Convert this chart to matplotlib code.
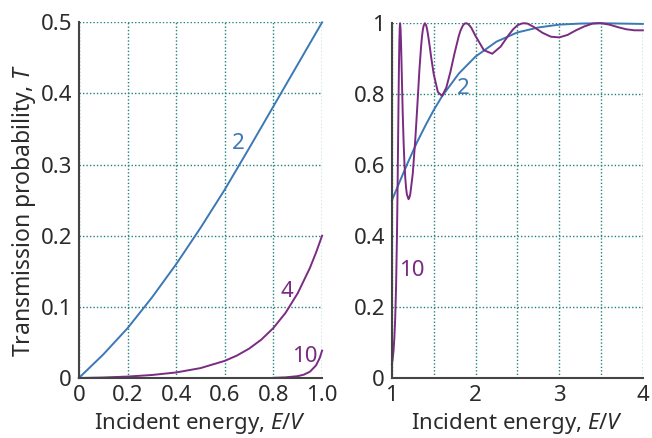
"""
Transmission probability through a rectangular barrier (E < V and E > V).
"""

from matplotlib import pyplot

# Left panel: E/V below 1
e_lo = [0.0, 0.1, 0.2, 0.3, 0.4, 0.5, 0.6, 0.7, 0.8, 0.9, 1.0]
t2_lo = [0.0, 0.033, 0.070, 0.113, 0.160, 0.211, 0.265, 0.323, 0.382, 0.441, 0.5]
e4_lo = [0.0, 0.1, 0.2, 0.3, 0.4, 0.5, 0.6, 0.65, 0.7, 0.75, 0.8, 0.85,
         0.9, 0.95, 0.975, 1.0]
t4_lo = [0.0, 0.0007, 0.002, 0.0042, 0.0078, 0.0139, 0.0241, 0.0316, 0.0413,
         0.0539, 0.0704, 0.0917, 0.1193, 0.1548, 0.1762, 0.2]
e10_lo = [0.8, 0.85, 0.9, 0.925, 0.95, 0.975, 0.99, 1.0]
t10_lo = [0.0003, 0.0009, 0.0026, 0.0047, 0.0088, 0.0177, 0.0279, 0.0385]

# Right panel: E/V above 1
e2_hi = [1.0, 1.1, 1.2, 1.3, 1.4, 1.5, 1.6, 1.8, 2.0, 2.25, 2.5, 2.75, 3.0,
         3.25, 3.5, 3.75, 4.0]
t2_hi = [0.5, 0.557, 0.612, 0.664, 0.711, 0.755, 0.794, 0.858, 0.906, 0.948,
         0.974, 0.988, 0.996, 0.999, 1.0, 0.999, 0.998]
e10_hi = [1.0, 1.005, 1.01, 1.02, 1.03, 1.04, 1.05, 1.06, 1.065, 1.07, 1.075,
          1.08, 1.085, 1.09, 1.095, 1.0987, 1.105, 1.11, 1.115, 1.12, 1.13,
          1.14, 1.15, 1.16, 1.17, 1.18, 1.2, 1.21, 1.22, 1.25, 1.28, 1.3,
          1.33, 1.35, 1.36, 1.37, 1.38, 1.395, 1.41, 1.42, 1.43, 1.45, 1.47,
          1.5, 1.55, 1.6, 1.65, 1.7, 1.75, 1.8, 1.82, 1.85, 1.87, 1.888, 1.91,
          1.93, 1.95, 2.0, 2.1, 2.2, 2.3, 2.4, 2.45, 2.5, 2.55, 2.579, 2.62,
          2.7, 2.8, 2.9, 3.0, 3.1, 3.2, 3.3, 3.4, 3.467, 3.5, 3.6, 3.7, 3.8,
          3.9, 4.0]
t10_hi = [0.0385, 0.0455, 0.054, 0.077, 0.113, 0.168, 0.253, 0.385, 0.471,
          0.569, 0.678, 0.785, 0.880, 0.952, 0.992, 1.0, 0.980, 0.941, 0.894,
          0.843, 0.746, 0.668, 0.607, 0.565, 0.536, 0.517, 0.504, 0.509, 0.518,
          0.576, 0.672, 0.749, 0.871, 0.936, 0.962, 0.981, 0.993, 1.0, 0.994,
          0.984, 0.971, 0.939, 0.904, 0.857, 0.806, 0.795, 0.818, 0.863, 0.916,
          0.964, 0.979, 0.994, 0.999, 1.0, 0.998, 0.993, 0.987, 0.964, 0.924,
          0.914, 0.934, 0.968, 0.983, 0.994, 0.999, 1.0, 0.999, 0.989, 0.973,
          0.962, 0.96, 0.967, 0.980, 0.991, 0.999, 1.0, 1.0, 0.996, 0.989,
          0.983, 0.980, 0.980]

xticks_lo = [0.0, 0.2, 0.4, 0.6, 0.8, 1.0]
xlabels_lo = ['0', '0.2', '0.4', '0.6', '0.8', '1.0']
yticks_lo = [0.0, 0.1, 0.2, 0.3, 0.4, 0.5]
ylabels_lo = ['0', '0.1', '0.2', '0.3', '0.4', '0.5']
xticks_hi = [1.0, 1.5, 2.0, 2.5, 3.0, 3.5, 4.0]
xlabels_hi = ['1', '', '2', '', '3', '', '4']
yticks_hi = [0.0, 0.2, 0.4, 0.6, 0.8, 1.0]
ylabels_hi = ['0', '0.2', '0.4', '0.6', '0.8', '1']

blue = '#3b78b4'
purple = '#7a2b82'
grid_color = '#21837a'
text_color = '#2b2b2b'

pyplot.rc('font', family='Noto Sans', size=15)
pyplot.rc('mathtext', fontset='custom', it='Noto Sans:italic', rm='Noto Sans')
fig = pyplot.figure(figsize=(6.52, 4.38), dpi=100)
ax1 = fig.add_axes([0.121, 0.137, 0.373, 0.812])
ax2 = fig.add_axes([0.601, 0.137, 0.385, 0.810])

for ax in (ax1, ax2):
    ax.spines['top'].set_visible(False)
    ax.spines['right'].set_visible(False)
    for side in ('left', 'bottom'):
        ax.spines[side].set_color('#444444')
        ax.spines[side].set_linewidth(1.5)
    ax.grid(True, linestyle=(0, (1, 1.5)), color=grid_color, linewidth=1.0)
    ax.tick_params(length=0, pad=5, labelsize=16, colors=text_color)
    ax.set_xlabel('Incident energy, $E/V$', fontsize=16, color=text_color,
                  labelpad=4)

ax1.plot(e_lo, t2_lo, color=blue, lw=1.4, clip_on=False)
ax1.plot(e4_lo, t4_lo, color=purple, lw=1.4, clip_on=False)
ax1.plot(e10_lo, t10_lo, color=purple, lw=1.4, clip_on=False)
ax1.set_xlim(0, 1)
ax1.set_ylim(0, 0.5)
ax1.set_xticks(xticks_lo)
ax1.set_xticklabels(xlabels_lo)
ax1.set_yticks(yticks_lo)
ax1.set_yticklabels(ylabels_lo)
ax1.set_ylabel('Transmission probability, $T$', fontsize=16.5,
               color=text_color)
ax1.yaxis.set_label_coords(-0.168, 0.472)
ax1.text(0.654, 0.33, '2', color=blue, fontsize=16, ha='center', va='center')
ax1.text(0.856, 0.121, '4', color=purple, fontsize=16, ha='center', va='center')
ax1.text(0.93, 0.03, '10', color=purple, fontsize=16, ha='center', va='center')

ax2.plot(e2_hi, t2_hi, color=blue, lw=1.4, clip_on=False)
ax2.plot(e10_hi, t10_hi, color=purple, lw=1.4, clip_on=False)
ax2.set_xlim(1, 4)
ax2.set_ylim(0, 1)
ax2.set_xticks(xticks_hi)
ax2.set_xticklabels(xlabels_hi)
ax2.set_yticks(yticks_hi)
ax2.set_yticklabels(ylabels_hi)
ax2.text(1.85, 0.817, '2', color=blue, fontsize=16, ha='center', va='center')
ax2.text(1.24, 0.304, '10', color=purple, fontsize=16, ha='center', va='center')

fig.savefig('out.png', dpi=100)
